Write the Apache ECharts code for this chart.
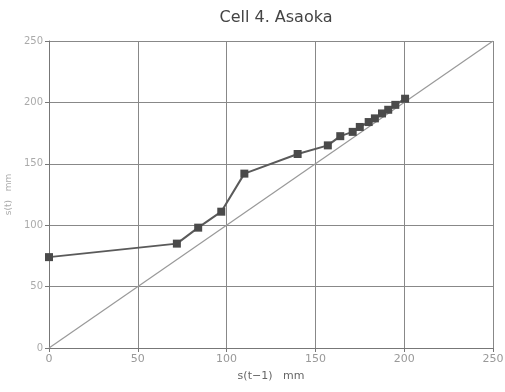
<!DOCTYPE html>
<html><head><meta charset="utf-8">
<script src="https://cdn.jsdelivr.net/npm/echarts@6/dist/echarts.min.js"></script>
<style>html,body{margin:0;padding:0;background:#fff}#c{width:505px;height:392px}</style>
</head><body><div id="c"></div>
<script>
var titleText = 'Cell 4. Asaoka';
var xName = 's(t\u22121)   mm';
var yName = 's(t)   mm';
var sPrev = [0, 72, 84, 97, 110, 140, 157, 164, 171, 175, 180, 183.5, 187.5, 191, 195, 200.5];
var sCur  = [74, 85, 98, 111, 142, 158, 165, 172.5, 176, 180, 184, 187, 191, 194, 198, 203];
var refX = [0, 250];
var refY = [0, 250];

var chart = echarts.init(document.getElementById('c'));
chart.setOption({
  backgroundColor: '#fff',
  animation: false,
  title: { text: titleText, left: 271, top: 5, textAlign: 'center',
    textStyle: { fontFamily: 'DejaVu Sans', fontWeight: 'normal', fontSize: 16, color: '#444' } },
  grid: { left: 49, right: 12, top: 41, bottom: 44, containLabel: false, outerBoundsMode: 'none' },
  xAxis: { type: 'value', min: 0, max: 250, interval: 50,
    name: xName, nameLocation: 'middle', nameGap: 23,
    nameTextStyle: { fontFamily: 'DejaVu Sans', fontSize: 11, color: '#666' },
    axisLine: { show: true, lineStyle: { color: '#777', width: 1 } },
    axisTick: { show: true, length: 4, lineStyle: { color: '#777' } },
    axisLabel: { fontFamily: 'DejaVu Sans', fontSize: 11, color: '#999', margin: 6 },
    splitLine: { show: true, lineStyle: { color: '#888', width: 1 } } },
  yAxis: { type: 'value', min: 0, max: 250, interval: 50,
    name: yName, nameLocation: 'middle', nameGap: 33,
    nameTextStyle: { fontFamily: 'DejaVu Sans', fontSize: 9, color: '#aaa' },
    axisLine: { show: true, lineStyle: { color: '#777', width: 1 } },
    axisTick: { show: true, length: 4, lineStyle: { color: '#777' } },
    axisLabel: { fontFamily: 'DejaVu Sans', fontSize: 10, color: '#aaa', margin: 6 },
    splitLine: { show: true, lineStyle: { color: '#888', width: 1 } } },
  series: [
    { type: 'line', data: refX.map(function(v,i){return [v, refY[i]];}),
      symbol: 'none', lineStyle: { color: '#999', width: 1.2 }, z: 2 },
    { type: 'line', data: sPrev.map(function(v,i){return [v, sCur[i]];}),
      symbol: 'rect', symbolSize: 8,
      itemStyle: { color: '#4a4a4a' },
      lineStyle: { color: '#5a5a5a', width: 2 }, z: 3 }
  ]
});
</script></body></html>
